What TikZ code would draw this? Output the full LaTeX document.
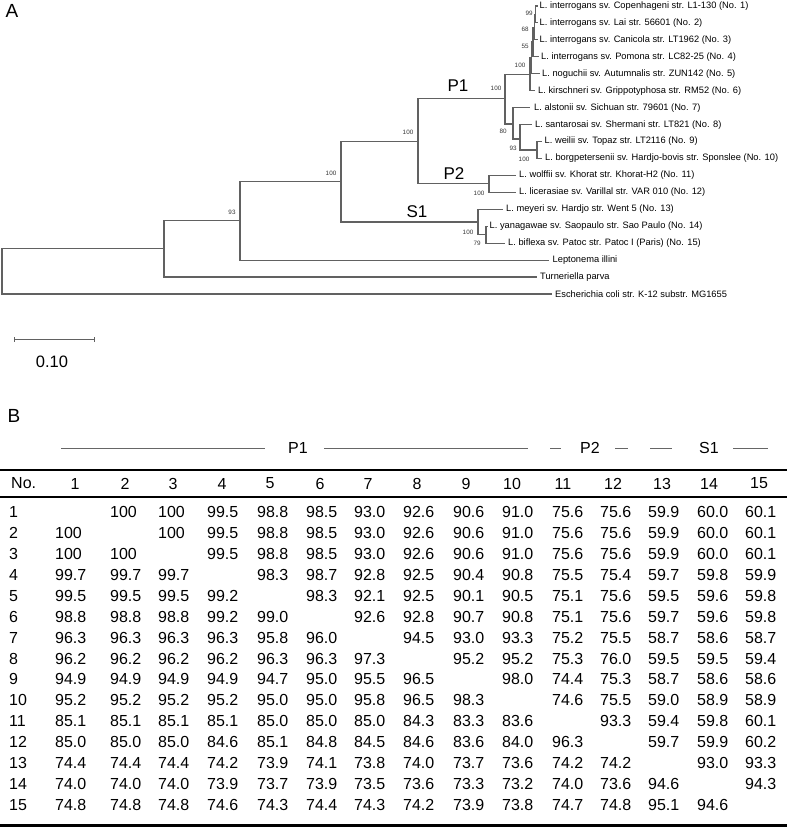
\documentclass[tikz,border=0pt]{standalone}
\usepackage{fontspec}
\setmainfont{Liberation Sans}
\begin{document}
\begin{tikzpicture}[x=1pt,y=-1pt,
  br/.style={draw=black!62,line width=1.1pt},
  leaf/.style={anchor=west,inner sep=0pt,font=\fontsize{9.3}{10}\selectfont},
  boot/.style={inner sep=0pt,font=\fontsize{6.3}{7}\selectfont,text=black!80},
  clade/.style={inner sep=0pt,font=\fontsize{17}{18}\selectfont},
  panel/.style={inner sep=0pt,font=\fontsize{19}{20}\selectfont},
  cell/.style={anchor=west,inner sep=0pt,font=\fontsize{16}{18}\selectfont},
  hdr/.style={inner sep=0pt,font=\fontsize{16}{18}\selectfont},
  grp/.style={draw=black!60,line width=0.8pt},
  rule/.style={draw=black,line cap=butt}]
\useasboundingbox (0,0) rectangle (787,828);

% ---------------- Panel A -----------------
\node[panel] (lblA) at (12,11) {A};

% internal nodes
\coordinate (R) at (2,271.4);
\coordinate (T) at (164,248.9);
\coordinate (L) at (240,220.8);
\coordinate (M) at (341,181.5);
\coordinate (N) at (418,141.1);
\coordinate (F) at (505,98.4);
\coordinate (E) at (530,74.3);
\coordinate (D) at (531.5,57.9);
\coordinate (C) at (533,42.0);
\coordinate (B) at (534.5,27.2);
\coordinate (Aa) at (535.8,14.5);
\coordinate (G) at (513,124.0);
\coordinate (H) at (520,139.0);
\coordinate (I) at (537,150.0);
\coordinate (P2n) at (489,183.9);
\coordinate (S1n) at (478,222.0);
\coordinate (S1s) at (486,234.7);

% leaf tips
\coordinate (t1) at (537.5,6.0);
\coordinate (t2) at (537.5,22.9);
\coordinate (t3) at (537.5,39.9);
\coordinate (t4) at (539,56.8);
\coordinate (t5) at (540,73.8);
\coordinate (t6) at (535,90.7);
\coordinate (t7) at (530,107.6);
\coordinate (t8) at (532,124.6);
\coordinate (t9) at (542,141.5);
\coordinate (t10) at (542,158.5);
\coordinate (t11) at (516,175.4);
\coordinate (t12) at (516,192.3);
\coordinate (t13) at (503,209.3);
\coordinate (t14) at (487.5,226.2);
\coordinate (t15) at (505,243.2);
\coordinate (t16) at (549,260.1);
\coordinate (t17) at (537,277.0);
\coordinate (t18) at (552,294.0);

% branches
\draw[br] (R) |- (T);  \draw[br] (R) |- (t18);
\draw[br] (T) |- (L);  \draw[br] (T) |- (t17);
\draw[br] (L) |- (M);  \draw[br] (L) |- (t16);
\draw[br] (M) |- (N);  \draw[br] (M) |- (S1n);
\draw[br] (N) |- (F);  \draw[br] (N) |- (P2n);
\draw[br] (F) |- (E);  \draw[br] (F) |- (G);
\draw[br] (E) |- (D);  \draw[br] (E) |- (t6);
\draw[br] (D) |- (C);  \draw[br] (D) |- (t5);
\draw[br] (C) |- (B);  \draw[br] (C) |- (t4);
\draw[br] (B) |- (Aa); \draw[br] (B) |- (t3);
\draw[br] (Aa) |- (t1); \draw[br] (Aa) |- (t2);
\draw[br] (G) |- (t7); \draw[br] (G) |- (H);
\draw[br] (H) |- (t8); \draw[br] (H) |- (I);
\draw[br] (I) |- (t9); \draw[br] (I) |- (t10);
\draw[br] (P2n) |- (t11); \draw[br] (P2n) |- (t12);
\draw[br] (S1n) |- (t13); \draw[br] (S1n) |- (S1s);
\draw[br] (S1s) |- (t14); \draw[br] (S1s) |- (t15);

% leaf labels
\node[leaf] (l1)  at ([xshift=2pt]t1)  {L. interrogans sv. Copenhageni str. L1-130 (No. 1)};
\node[leaf] (l2)  at ([xshift=2pt]t2)  {L. interrogans sv. Lai str. 56601 (No. 2)};
\node[leaf] (l3)  at ([xshift=2pt]t3)  {L. interrogans sv. Canicola str. LT1962 (No. 3)};
\node[leaf] (l4)  at ([xshift=2pt]t4)  {L. interrogans sv. Pomona str. LC82-25 (No. 4)};
\node[leaf] (l5)  at ([xshift=2pt]t5)  {L. noguchii sv. Autumnalis str. ZUN142 (No. 5)};
\node[leaf] (l6)  at ([xshift=3pt]t6)  {L. kirschneri sv. Grippotyphosa str. RM52 (No. 6)};
\node[leaf] (l7)  at ([xshift=4pt]t7)  {L. alstonii sv. Sichuan str. 79601 (No. 7)};
\node[leaf] (l8)  at ([xshift=3pt]t8)  {L. santarosai sv. Shermani str. LT821 (No. 8)};
\node[leaf] (l9)  at ([xshift=2.5pt]t9)  {L. weilii sv. Topaz str. LT2116 (No. 9)};
\node[leaf] (l10) at ([xshift=3pt]t10) {L. borgpetersenii sv. Hardjo-bovis str. Sponslee (No. 10)};
\node[leaf] (l11) at ([xshift=3pt]t11) {L. wolffii sv. Khorat str. Khorat-H2 (No. 11)};
\node[leaf] (l12) at ([xshift=3pt]t12) {L. licerasiae sv. Varillal str. VAR 010 (No. 12)};
\node[leaf] (l13) at ([xshift=3pt]t13) {L. meyeri sv. Hardjo str. Went 5 (No. 13)};
\node[leaf] (l14) at ([xshift=2pt]t14) {L. yanagawae sv. Saopaulo str. Sao Paulo (No. 14)};
\node[leaf] (l15) at ([xshift=3pt]t15) {L. biflexa sv. Patoc str. Patoc I (Paris) (No. 15)};
\node[leaf] (l16) at ([xshift=3.5pt]t16) {Leptonema illini};
\node[leaf] (l17) at ([xshift=3pt]t17) {Turneriella parva};
\node[leaf] (l18) at ([xshift=3pt]t18) {Escherichia coli str. K-12 substr. MG1655};

% bootstrap values
\node[boot] (b1)  at (529,13)  {99};
\node[boot] (b2)  at (525,29)  {68};
\node[boot] (b3)  at (525,46)  {55};
\node[boot] (b4)  at (520,65)  {100};
\node[boot] (b5)  at (496,88)  {100};
\node[boot] (b6)  at (503,131) {80};
\node[boot] (b7)  at (513,148) {93};
\node[boot] (b8)  at (524,159) {100};
\node[boot] (b9)  at (479,193) {100};
\node[boot] (b10) at (468,232) {100};
\node[boot] (b11) at (477,243) {79};
\node[boot] (b12) at (408,132) {100};
\node[boot] (b13) at (331,173) {100};
\node[boot] (b14) at (232,212) {93};

% clade labels
\node[clade] (cP1) at (458,85.5) {P1};
\node[clade] (cP2) at (454,173.5) {P2};
\node[clade] (cS1) at (417,211.5) {S1};

% scale bar
\coordinate (sb1) at (14,339);
\coordinate (sb2) at (94,339);
\draw[br,line width=0.9pt] (sb1) -- (sb2);
\draw[br,line width=0.9pt] ([yshift=-2.5pt]sb1) -- ([yshift=2.5pt]sb1);
\draw[br,line width=0.9pt] ([yshift=-2.5pt]sb2) -- ([yshift=2.5pt]sb2);
\node[inner sep=0pt,font=\fontsize{16.5}{18}\selectfont] (sblab) at (52,362) {0.10};

% ---------------- Panel B -----------------
\node[panel] (lblB) at (14,416) {B};

% group header
\node[hdr] (gP1) at (298,448) {P1};
\node[hdr] (gP2) at (590,448) {P2};
\node[hdr] (gS1) at (709,448) {S1};
\coordinate (g1a) at (61,448);  \coordinate (g1b) at (265,448);
\coordinate (g1c) at (324,448); \coordinate (g1d) at (528,448);
\coordinate (g2a) at (550,448); \coordinate (g2b) at (561,448);
\coordinate (g2c) at (615,448); \coordinate (g2d) at (628,448);
\coordinate (g3a) at (650,448); \coordinate (g3b) at (672,448);
\coordinate (g3c) at (733,448); \coordinate (g3d) at (768,448);
\draw[grp] (g1a) -- (g1b); \draw[grp] (g1c) -- (g1d);
\draw[grp] (g2a) -- (g2b); \draw[grp] (g2c) -- (g2d);
\draw[grp] (g3a) -- (g3b); \draw[grp] (g3c) -- (g3d);

% rules
\coordinate (r1a) at (0,470); \coordinate (r1b) at (787,470);
\coordinate (r2a) at (0,497); \coordinate (r2b) at (787,497);
\coordinate (r3a) at (0,825.5); \coordinate (r3b) at (787,825.5);
\draw[rule,line width=2.6pt] (r1a) -- (r1b);
\draw[rule,line width=1.8pt] (r2a) -- (r2b);
\draw[rule,line width=3pt] (r3a) -- (r3b);

% header row
\node[cell] (hNo) at (11,483.5) {No.};
\foreach \c/\hx in {1/75,2/125,3/173,4/222,5/270,6/320,7/368,8/417,9/466,10/512,11/563,12/613,13/662,14/709,15/759}
  \node[hdr] (h-\c) at (\hx,483.5) {\c};

% data
\def\colx{{55,110,158,207,257,306,354,403,453,502,552,600,648,697,745}}
\newcommand\mrow[2]{%
  \node[cell] (r-#1) at (9,{512+(#1-1)*20.93}) {#1};
  \foreach \v [count=\k] in {#2} {%
    \pgfmathtruncatemacro\cc{\k<#1 ? \k : \k+1}%
    \pgfmathsetmacro\xx{\colx[\cc-1]}%
    \node[cell] (c-#1-\cc) at (\xx,{512+(#1-1)*20.93}) {\v};
  }%
}
\mrow{1}{100,100,99.5,98.8,98.5,93.0,92.6,90.6,91.0,75.6,75.6,59.9,60.0,60.1}
\mrow{2}{100,100,99.5,98.8,98.5,93.0,92.6,90.6,91.0,75.6,75.6,59.9,60.0,60.1}
\mrow{3}{100,100,99.5,98.8,98.5,93.0,92.6,90.6,91.0,75.6,75.6,59.9,60.0,60.1}
\mrow{4}{99.7,99.7,99.7,98.3,98.7,92.8,92.5,90.4,90.8,75.5,75.4,59.7,59.8,59.9}
\mrow{5}{99.5,99.5,99.5,99.2,98.3,92.1,92.5,90.1,90.5,75.1,75.6,59.5,59.6,59.8}
\mrow{6}{98.8,98.8,98.8,99.2,99.0,92.6,92.8,90.7,90.8,75.1,75.6,59.7,59.6,59.8}
\mrow{7}{96.3,96.3,96.3,96.3,95.8,96.0,94.5,93.0,93.3,75.2,75.5,58.7,58.6,58.7}
\mrow{8}{96.2,96.2,96.2,96.2,96.3,96.3,97.3,95.2,95.2,75.3,76.0,59.5,59.5,59.4}
\mrow{9}{94.9,94.9,94.9,94.9,94.7,95.0,95.5,96.5,98.0,74.4,75.3,58.7,58.6,58.6}
\mrow{10}{95.2,95.2,95.2,95.2,95.0,95.0,95.8,96.5,98.3,74.6,75.5,59.0,58.9,58.9}
\mrow{11}{85.1,85.1,85.1,85.1,85.0,85.0,85.0,84.3,83.3,83.6,93.3,59.4,59.8,60.1}
\mrow{12}{85.0,85.0,85.0,84.6,85.1,84.8,84.5,84.6,83.6,84.0,96.3,59.7,59.9,60.2}
\mrow{13}{74.4,74.4,74.4,74.2,73.9,74.1,73.8,74.0,73.7,73.6,74.2,74.2,93.0,93.3}
\mrow{14}{74.0,74.0,74.0,73.9,73.7,73.9,73.5,73.6,73.3,73.2,74.0,73.6,94.6,94.3}
\mrow{15}{74.8,74.8,74.8,74.6,74.3,74.4,74.3,74.2,73.9,73.8,74.7,74.8,95.1,94.6}
\end{tikzpicture}
\end{document}
